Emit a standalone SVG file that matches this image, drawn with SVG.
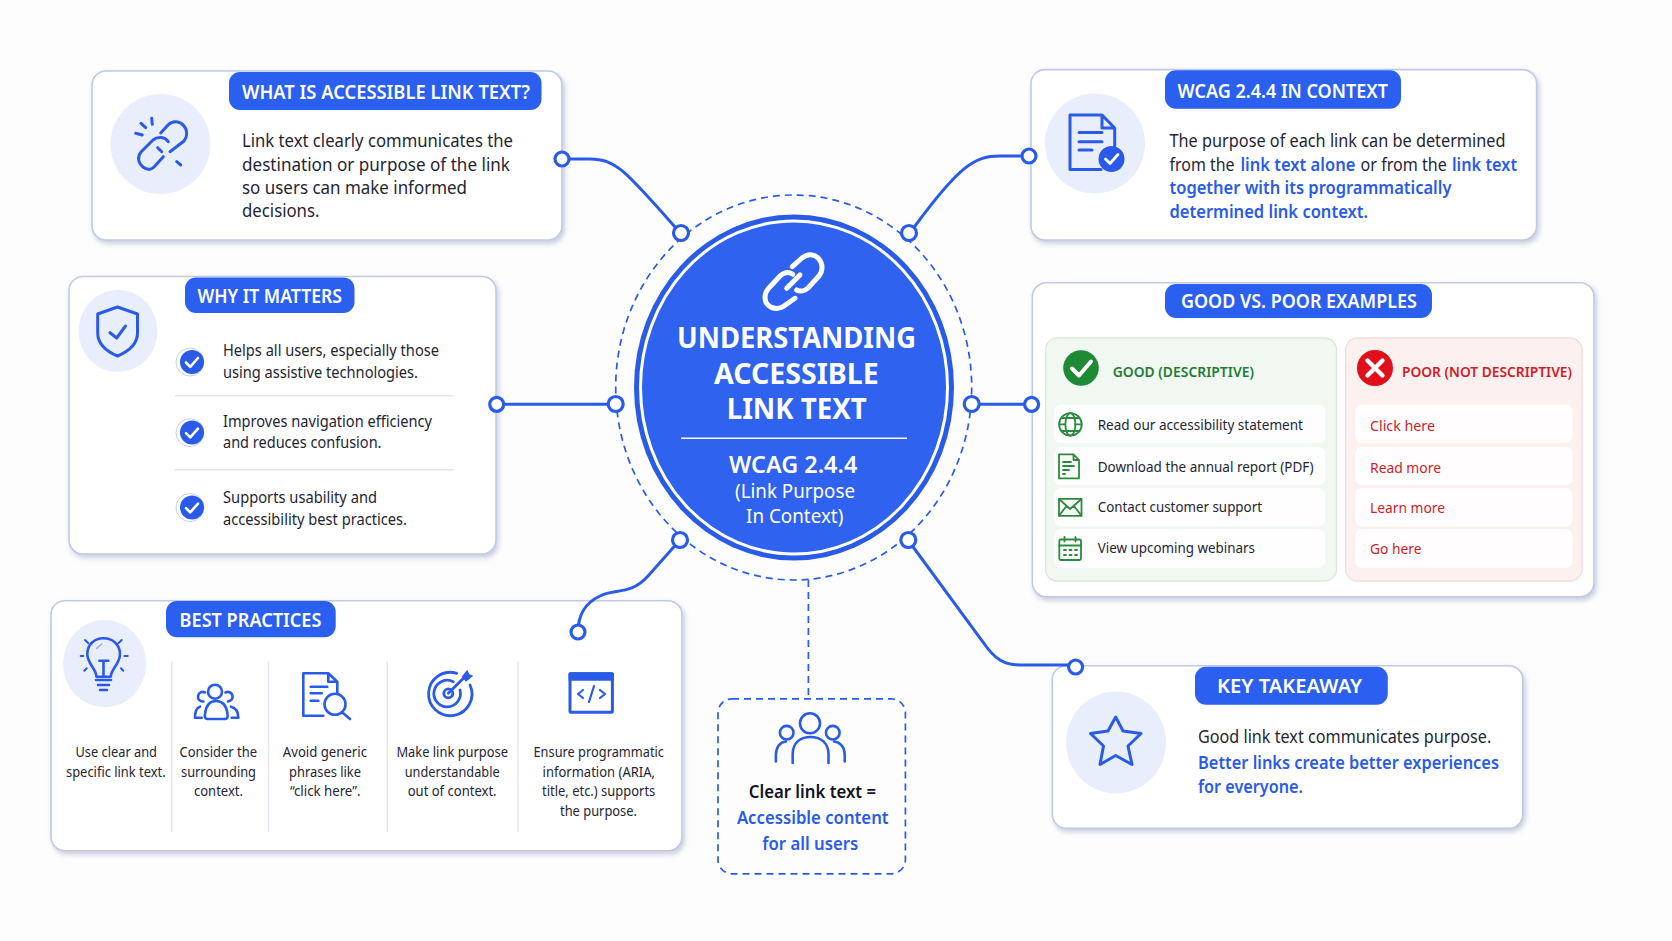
<svg xmlns="http://www.w3.org/2000/svg" width="1672" height="941" viewBox="0 0 1672 941">
<style>
text{font-family:"Noto Sans","Open Sans","Liberation Sans",sans-serif;fill:#1f2533}
.card{fill:#fff;stroke:#c2cae3;stroke-width:1.6;filter:url(#sh)}
.pill{fill:#2a5ff0}
.pt{fill:#fff;font-size:19px;font-weight:600}
.tint{fill:#e9eefc}
.b18{font-size:18px}
.b16{font-size:16px}
.b14{font-size:14.5px}
.blue{fill:#2a5be8;font-weight:600}
.ic{fill:none;stroke:#2a5be8;stroke-width:3;stroke-linecap:round;stroke-linejoin:round}
.ic2{fill:none;stroke:#2a5be8;stroke-width:2.6;stroke-linecap:round;stroke-linejoin:round}
.ig{fill:none;stroke:#2b8a3e;stroke-width:1.8;stroke-linecap:round;stroke-linejoin:round}
.gr{fill:#1f2533;font-size:14.5px}
.rd{fill:#d01c28;font-size:14.5px}
.row{fill:#fff;opacity:.85}
.div{stroke:#e2e5ee;stroke-width:1.5}
.con{fill:none;stroke:#2a5be8;stroke-width:3;stroke-linecap:round}
.dash{fill:none;stroke:#2a5be8;stroke-width:1.7;stroke-dasharray:7 5}
.nd{fill:#fff;stroke:#2a5be8;stroke-width:3.2}
.wt{fill:#fff}
</style>
<defs>
<filter id="sh" x="-5%" y="-5%" width="110%" height="112%"><feDropShadow dx="2" dy="3" stdDeviation="2.5" flood-color="#8a93b5" flood-opacity=".45"/></filter>
<g id="chk"><circle cx="-2" cy="0" r="14" fill="none" stroke="#c5d0f0" stroke-width="1"/><circle r="12" fill="#2a5be8"/><path d="M-6 0.5L-1.8 4.8L6 -4" fill="none" stroke="#fff" stroke-width="2.6" stroke-linecap="round" stroke-linejoin="round"/></g>
</defs>
<rect width="1672" height="941" fill="#fdfdfe"/>

<g id="center">
<ellipse cx="793.7" cy="387.5" rx="178" ry="192.5" class="dash"/>
<ellipse cx="794" cy="387.5" rx="160" ry="173" fill="#2a5be8"/>
<ellipse cx="794" cy="387.5" rx="153.5" ry="166.5" fill="#2f62ee" stroke="#fff" stroke-width="3"/>
<g fill="none" stroke="#fff" stroke-width="5" stroke-linecap="round" stroke-linejoin="round">
<path d="M792.3 266.7L802 258C808 253 815 254 819 259C823 264 823 271 819 276L808 288C805 291 800 292 796.7 290"/>
<path d="M792.7 274.3C788 271 783 273 780 276L768 289C764 294 764 301 768 305C773 310 780 309 784 306L795 298.3"/>
<path d="M800 275L786.7 288.3"/>
</g>
<text x="677" y="347.5" font-size="28" font-weight="700" class="wt" textLength="239" lengthAdjust="spacingAndGlyphs">UNDERSTANDING</text>
<text x="714" y="383.5" font-size="28" font-weight="700" class="wt" textLength="164.7" lengthAdjust="spacingAndGlyphs">ACCESSIBLE</text>
<text x="726.7" y="419" font-size="28" font-weight="700" class="wt" textLength="140" lengthAdjust="spacingAndGlyphs">LINK TEXT</text>
<line x1="681" y1="438.3" x2="907" y2="438.3" stroke="#fff" stroke-width="1.5"/>
<text x="729" y="473" font-size="23" font-weight="600" class="wt" textLength="128.3" lengthAdjust="spacingAndGlyphs">WCAG 2.4.4</text>
<text x="735" y="498" font-size="19.5" class="wt" textLength="120" lengthAdjust="spacingAndGlyphs">(Link Purpose</text>
<text x="746" y="523" font-size="19.5" class="wt" textLength="97.3" lengthAdjust="spacingAndGlyphs">In Context)</text>
</g>

<g id="what-is">
<rect class="card" x="92" y="71" width="470" height="169" rx="14"/>
<circle class="tint" cx="160.5" cy="144" r="50"/>
<path class="ic" d="M160.7 133L168 125C173 120 180 121 184 126C188 131 187 137 184 141L170 151.7M168.3 141.7C165 137 158 136 153 140L141 152C137 157 138 163 143 167C147 170 151 170 154 167L163.3 156.7M157.7 147.7L161.7 151.7M151.7 118.3L152.3 124.3M141 123.3L145.7 127.7M135.7 133.3L142.3 135M176.7 161.7L180.7 165"/>
<rect class="pill" x="229" y="72" width="312.5" height="38" rx="11"/>
<text class="pt" x="242" y="99" textLength="288" lengthAdjust="spacingAndGlyphs">WHAT IS ACCESSIBLE LINK TEXT?</text>
<text class="b18" x="242" y="147.4" textLength="271" lengthAdjust="spacingAndGlyphs">Link text clearly communicates the</text>
<text class="b18" x="242" y="170.5" textLength="268" lengthAdjust="spacingAndGlyphs">destination or purpose of the link</text>
<text class="b18" x="242" y="194" textLength="225" lengthAdjust="spacingAndGlyphs">so users can make informed</text>
<text class="b18" x="242" y="217.4" textLength="77.5" lengthAdjust="spacingAndGlyphs">decisions.</text>
</g>

<g id="why-matters">
<rect class="card" x="69" y="276.5" width="427" height="277.5" rx="14"/>
<ellipse class="tint" cx="118" cy="331" rx="39.5" ry="41"/>
<path class="ic" d="M117.5 307L137.5 314V333C137.5 345 127 352 117.5 356C108 352 97.7 345 97.7 333V314Z"/>
<path class="ic" d="M110 332.7L116.7 338L125.5 326"/>
<rect class="pill" x="185" y="277.6" width="169.5" height="35.4" rx="11"/>
<text class="pt" x="197.5" y="302.7" textLength="144.5" lengthAdjust="spacingAndGlyphs">WHY IT MATTERS</text>
<use href="#chk" x="192" y="362"/>
<use href="#chk" x="192" y="432.6"/>
<use href="#chk" x="192" y="507.6"/>
<line class="div" x1="175" y1="395.7" x2="453.5" y2="395.7"/>
<line class="div" x1="175" y1="469.7" x2="453.5" y2="469.7"/>
<text class="b16" x="223" y="356" textLength="216" lengthAdjust="spacingAndGlyphs">Helps all users, especially those</text>
<text class="b16" x="223" y="378" textLength="195" lengthAdjust="spacingAndGlyphs">using assistive technologies.</text>
<text class="b16" x="223" y="426.7" textLength="209" lengthAdjust="spacingAndGlyphs">Improves navigation efficiency</text>
<text class="b16" x="223" y="448.3" textLength="158.5" lengthAdjust="spacingAndGlyphs">and reduces confusion.</text>
<text class="b16" x="223" y="503" textLength="154" lengthAdjust="spacingAndGlyphs">Supports usability and</text>
<text class="b16" x="223" y="524.5" textLength="184" lengthAdjust="spacingAndGlyphs">accessibility best practices.</text>
</g>

<g id="best-practices">
<rect class="card" x="51" y="600.7" width="631" height="250" rx="14"/>
<ellipse class="tint" cx="104.6" cy="663.6" rx="41.6" ry="43.6"/>
<path class="ic2" d="M96.5 676.7C96 668 87.3 664 87.3 654C87.3 645 94 638.3 103.5 638.3C113 638.3 120 645 120 654C120 664 111.5 668 110.7 676.7ZM96 680H111M98 685H109M100 690H107M103.5 676.7V660.7M99.3 660.7H108.3"/>
<path d="M96.7 648.3L101.7 644" fill="none" stroke="#8fa9ee" stroke-width="1.4" stroke-linecap="round"/>
<path class="ic2" style="stroke-width:2" d="M85 640L88.3 643.3M121.7 640L118.3 643.3M80.7 656H83.3M124.3 656H127.7M84.3 670.7L86.7 668.3M123.3 670.7L121 668.3"/>
<rect class="pill" x="166" y="601" width="169.7" height="36.3" rx="11"/>
<text class="pt" x="179.6" y="627" textLength="141.8" lengthAdjust="spacingAndGlyphs">BEST PRACTICES</text>
<g class="div"><line x1="171.8" y1="661.7" x2="171.8" y2="831.7"/><line x1="268.5" y1="661.7" x2="268.5" y2="831.7"/><line x1="387.3" y1="661.7" x2="387.3" y2="831.7"/><line x1="517.9" y1="661.7" x2="517.9" y2="831.7"/></g>
<g class="ic2"><circle cx="215" cy="691.7" r="7"/><path d="M207.5 719C205 719 204.5 717 205 714C206 705 210 701 216 701C222 701 226.5 705 227.5 714C228 717 227.5 719 225 719ZM205 692.5A4.8 4.8 0 1 0 203.5 701.5M225.5 692.5A4.8 4.8 0 1 1 228 701.5M200 706.7C196 708 195 712 195 717.7H201.7M231 706.7C236 708 238.3 712 238.3 717.7H231.7"/></g>
<g class="ic2"><path d="M323.3 715.7H303.3V673.3H328.3L337.3 681.7V693M328.3 673.3V681.7H337.3M310.7 686.7H327.3M310.7 693.3H321.7M310.7 700.7H318.3"/><circle cx="335" cy="704.3" r="10.5"/><path d="M343.3 713.3L350 719"/></g>
<g class="ic2" style="stroke-width:2.8"><path d="M456.7 673.3A21.7 21.7 0 1 0 470 685"/><path d="M453.3 681.7A13.3 13.3 0 1 0 460 690"/><circle cx="448.3" cy="693.3" r="4.5"/><path d="M448.3 693.3L465 676.7"/></g>
<path d="M467.3 669.7L469.3 674.3L473.3 675.7L466 681.7L461.7 676.7Z" fill="#2a5be8"/>
<g class="ic"><rect x="570" y="673.7" width="42.4" height="38.6" rx="1"/><rect x="570" y="673.7" width="42.4" height="5.5" fill="#2a5be8"/><path d="M583 690L578 694L583 698M600 690L605 694L600 698M594 686L589 702" style="stroke-width:2.2"/></g>
<text class="b14" x="75.5" y="757" textLength="81.5" lengthAdjust="spacingAndGlyphs">Use clear and</text>
<text class="b14" x="66" y="776.7" textLength="99.7" lengthAdjust="spacingAndGlyphs">specific link text.</text>
<text class="b14" x="179.6" y="757" textLength="77.4" lengthAdjust="spacingAndGlyphs">Consider the</text>
<text class="b14" x="181" y="776.7" textLength="75" lengthAdjust="spacingAndGlyphs">surrounding</text>
<text class="b14" x="194" y="796" textLength="49" lengthAdjust="spacingAndGlyphs">context.</text>
<text class="b14" x="282.8" y="757" textLength="84.2" lengthAdjust="spacingAndGlyphs">Avoid generic</text>
<text class="b14" x="289" y="776.7" textLength="72" lengthAdjust="spacingAndGlyphs">phrases like</text>
<text class="b14" x="290" y="796" textLength="70.5" lengthAdjust="spacingAndGlyphs">“click here”.</text>
<text class="b14" x="396.4" y="757" textLength="111.6" lengthAdjust="spacingAndGlyphs">Make link purpose</text>
<text class="b14" x="404.7" y="776.7" textLength="94.9" lengthAdjust="spacingAndGlyphs">understandable</text>
<text class="b14" x="407.7" y="796" textLength="88.9" lengthAdjust="spacingAndGlyphs">out of context.</text>
<text class="b14" x="533.5" y="757" textLength="130.5" lengthAdjust="spacingAndGlyphs">Ensure programmatic</text>
<text class="b14" x="542.6" y="776.7" textLength="112.4" lengthAdjust="spacingAndGlyphs">information (ARIA,</text>
<text class="b14" x="542" y="796" textLength="113.3" lengthAdjust="spacingAndGlyphs">title, etc.) supports</text>
<text class="b14" x="560" y="815.7" textLength="77" lengthAdjust="spacingAndGlyphs">the purpose.</text>
</g>

<g id="wcag-context">
<rect class="card" x="1031" y="69.6" width="505.6" height="170.4" rx="14"/>
<circle class="tint" cx="1095" cy="143.5" r="50"/>
<path class="ic" d="M1101 169.5H1070V115H1102L1114.7 128V146M1102 115V128H1114.7"/>
<path class="ic" d="M1079 132.5H1102M1079 141.7H1102M1079 150H1092"/>
<circle cx="1111.5" cy="159" r="13" fill="#2a5be8"/>
<path d="M1105.5 159L1110 163.5L1118 154.5" fill="none" stroke="#fff" stroke-width="2.8" stroke-linecap="round" stroke-linejoin="round"/>
<rect class="pill" x="1165" y="70.3" width="236" height="38.5" rx="11"/>
<text class="pt" x="1177.5" y="98" textLength="210.5" lengthAdjust="spacingAndGlyphs">WCAG 2.4.4 IN CONTEXT</text>
<text class="b18" x="1169.5" y="147.3" textLength="336" lengthAdjust="spacingAndGlyphs">The purpose of each link can be determined</text>
<text class="b18" x="1169.5" y="170.6" textLength="65" lengthAdjust="spacingAndGlyphs">from the</text>
<text class="b18 blue" x="1240.4" y="170.6" textLength="115" lengthAdjust="spacingAndGlyphs">link text alone</text>
<text class="b18" x="1360.6" y="170.6" textLength="86.2" lengthAdjust="spacingAndGlyphs">or from the</text>
<text class="b18 blue" x="1452" y="170.6" textLength="65" lengthAdjust="spacingAndGlyphs">link text</text>
<text class="b18 blue" x="1169.5" y="194.3" textLength="282" lengthAdjust="spacingAndGlyphs">together with its programmatically</text>
<text class="b18 blue" x="1169.5" y="218" textLength="198.5" lengthAdjust="spacingAndGlyphs">determined link context.</text>
</g>

<g id="examples">
<rect class="card" x="1032.4" y="282.7" width="561.6" height="314" rx="14"/>
<rect class="pill" x="1165" y="284" width="267" height="34" rx="11"/>
<text class="pt" x="1181" y="308" textLength="235.8" lengthAdjust="spacingAndGlyphs">GOOD VS. POOR EXAMPLES</text>
<rect x="1045.5" y="338" width="291" height="243" rx="12" fill="#f1f8f2" stroke="#dce8de" stroke-width="1.4"/>
<rect x="1345.6" y="338" width="236.4" height="243" rx="12" fill="#fdf1f0" stroke="#f2dede" stroke-width="1.4"/>
<circle cx="1081" cy="368" r="17.8" fill="#1e8a36"/>
<path d="M1072 368.5L1079 375.5L1091 361.5" fill="none" stroke="#fff" stroke-width="4" stroke-linecap="round" stroke-linejoin="round"/>
<text x="1112.7" y="377.4" font-size="14.5" font-weight="600" style="fill:#1e7d32" textLength="141.2" lengthAdjust="spacingAndGlyphs">GOOD (DESCRIPTIVE)</text>
<circle cx="1375" cy="368" r="18" fill="#e10f1a"/>
<path d="M1367.5 360.5L1382.5 375.5M1382.5 360.5L1367.5 375.5" fill="none" stroke="#fff" stroke-width="4.4" stroke-linecap="round"/>
<text x="1402" y="377.4" font-size="14.5" font-weight="600" style="fill:#d01c28" textLength="170" lengthAdjust="spacingAndGlyphs">POOR (NOT DESCRIPTIVE)</text>
<rect class="row" x="1054" y="404.4" width="271.4" height="38.6" rx="7"/>
<rect class="row" x="1054" y="447" width="271.4" height="38" rx="7"/>
<rect class="row" x="1054" y="488" width="271.4" height="38.5" rx="7"/>
<rect class="row" x="1054" y="529" width="271.4" height="39" rx="7"/>
<rect class="row" x="1355" y="404.4" width="217.6" height="38.6" rx="7"/>
<rect class="row" x="1355" y="447" width="217.6" height="38" rx="7"/>
<rect class="row" x="1355" y="488" width="217.6" height="38.5" rx="7"/>
<rect class="row" x="1355" y="529" width="217.6" height="39" rx="7"/>
<g class="ig"><circle cx="1070.4" cy="424.4" r="11.3"/><ellipse cx="1070.4" cy="424.4" rx="5" ry="11.3"/><path d="M1059.5 424.4H1065M1075 424.4H1081.5M1061.5 418H1079.5M1061.5 431H1079.5"/></g>
<g class="ig"><path d="M1059 454.3H1073.5L1079 460V478.4H1059ZM1073.5 454.3V460H1079M1063 462H1071M1063 466H1074M1063 470H1069M1063 474H1065"/></g>
<g class="ig"><rect x="1059" y="498.8" width="22.5" height="17"/><path d="M1059 499L1070 509L1081.5 499M1059 515.8L1066.5 506M1081.5 515.8L1074 506"/></g>
<g class="ig"><rect x="1059.3" y="539.5" width="21.7" height="20.5" rx="1.5"/><path d="M1059.3 545.5H1081M1064.5 537V541.5M1075.5 537V541.5M1064 550H1066M1069.5 550H1071.5M1075 550H1077M1064 555H1066M1069.5 555H1071.5M1075 555H1077"/></g>
<text class="gr" x="1097.7" y="429.6" textLength="205.3" lengthAdjust="spacingAndGlyphs">Read our accessibility statement</text>
<text class="gr" x="1097.7" y="471.7" textLength="215.9" lengthAdjust="spacingAndGlyphs">Download the annual report (PDF)</text>
<text class="gr" x="1097.7" y="512" textLength="164.3" lengthAdjust="spacingAndGlyphs">Contact customer support</text>
<text class="gr" x="1097.7" y="553" textLength="157.3" lengthAdjust="spacingAndGlyphs">View upcoming webinars</text>
<text class="rd" x="1370" y="431" textLength="65" lengthAdjust="spacingAndGlyphs">Click here</text>
<text class="rd" x="1370" y="472.5" textLength="71" lengthAdjust="spacingAndGlyphs">Read more</text>
<text class="rd" x="1370" y="513" textLength="75" lengthAdjust="spacingAndGlyphs">Learn more</text>
<text class="rd" x="1370" y="554" textLength="51.5" lengthAdjust="spacingAndGlyphs">Go here</text>
</g>

<g id="takeaway">
<rect class="card" x="1052.3" y="665.7" width="470.5" height="162.6" rx="14"/>
<ellipse class="tint" cx="1116" cy="742.5" rx="50" ry="51"/>
<path class="ic" d="M1115.7 717L1123 731L1141 733.5L1128 746L1132 764.5L1115.7 755.5L1100 764.5L1103.5 746L1090.5 733.5L1108 731Z"/>
<rect class="pill" x="1195" y="666.7" width="192.8" height="38" rx="11"/>
<text class="pt" x="1217" y="693" textLength="145.3" lengthAdjust="spacingAndGlyphs">KEY TAKEAWAY</text>
<text class="b18" x="1198" y="742.7" textLength="293.3" lengthAdjust="spacingAndGlyphs">Good link text communicates purpose.</text>
<text class="b18 blue" x="1198" y="769.3" textLength="301" lengthAdjust="spacingAndGlyphs">Better links create better experiences</text>
<text class="b18 blue" x="1198" y="792.5" textLength="105" lengthAdjust="spacingAndGlyphs">for everyone.</text>
</g>

<g id="summary">
<rect x="718" y="698.8" width="187.4" height="175" rx="14" class="dash"/>
<g class="ic2"><circle cx="810" cy="723.3" r="10"/><circle cx="786.7" cy="732.7" r="6.8"/><circle cx="832.8" cy="732.7" r="6.8"/><path d="M792.7 763V754C792.7 743 800 737 810.5 737C821 737 828.5 743 828.5 754V763M775.9 761.5V755C775.9 747 780 742 786 741.5M844.7 761.5V755C844.7 747 840 742 834 741.5"/></g>
<text x="748.8" y="797.7" font-size="17.5" font-weight="600" style="fill:#11141c" textLength="127.2" lengthAdjust="spacingAndGlyphs">Clear link text =</text>
<text x="736.9" y="824.3" font-size="17.5" class="blue" textLength="151.7" lengthAdjust="spacingAndGlyphs">Accessible content</text>
<text x="762.3" y="850.3" font-size="17.5" class="blue" textLength="96" lengthAdjust="spacingAndGlyphs">for all users</text>
</g>

<g id="connectors">
<path class="con" d="M562 159H590C615 159 625 170 675 227"/>
<path class="con" d="M1029 156H1000C975 156 960 165 915 226"/>
<path class="con" d="M496.7 404.3H615.7"/>
<path class="con" d="M971.7 404.3H1031.6"/>
<path class="con" d="M680 540L648 576C630 596 615 588 600 596C585 603 578 615 578 632"/>
<path class="con" d="M908 540L983 642C995 660 1005 665 1020 665H1075"/>
<line x1="808.4" y1="580" x2="808.4" y2="698" class="dash"/>
<circle class="nd" cx="562" cy="159" r="7"/><circle class="nd" cx="681" cy="233" r="7.5"/>
<circle class="nd" cx="1029" cy="156" r="7"/><circle class="nd" cx="909" cy="233" r="7.5"/>
<circle class="nd" cx="496.7" cy="404.3" r="7"/><circle class="nd" cx="615.7" cy="404" r="7.5"/>
<circle class="nd" cx="1031.6" cy="404.3" r="7"/><circle class="nd" cx="971.7" cy="404" r="7.5"/>
<circle class="nd" cx="578" cy="632" r="7"/><circle class="nd" cx="680" cy="540" r="7.5"/>
<circle class="nd" cx="1075.6" cy="667" r="7"/><circle class="nd" cx="908.3" cy="540" r="7.5"/>
</g>
</svg>
